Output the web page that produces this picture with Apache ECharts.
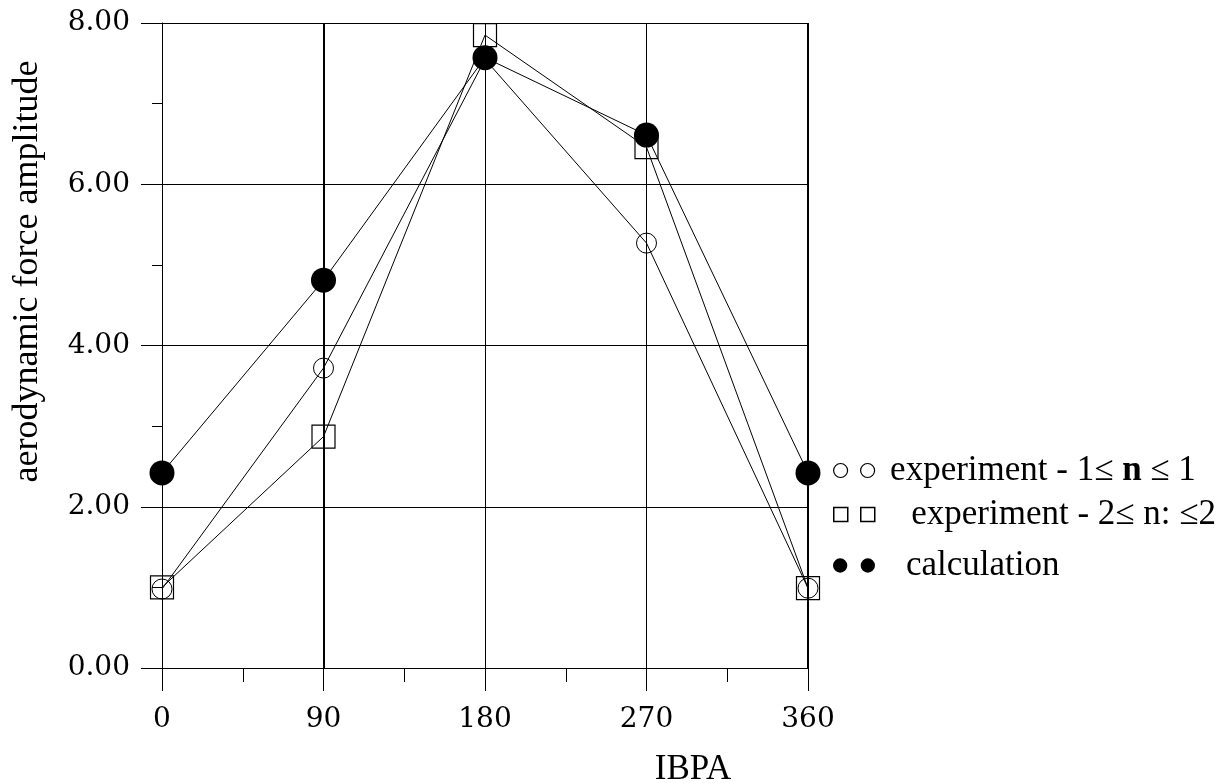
<!DOCTYPE html>
<html>
<head>
<meta charset="utf-8">
<script src="https://cdn.jsdelivr.net/npm/echarts@6/dist/echarts.min.js"></script>
<style>
html,body{margin:0;padding:0;background:#fff;}
#chart{width:1220px;height:783px;}
</style>
</head>
<body>
<div id="chart"></div>
<script>
// ---- data ----
var ibpa = [0, 90, 180, 270, 360];
var exp1 = [0.98, 3.72, 7.55, 5.27, 0.99];
var exp2 = [1.0, 2.87, 7.85, 6.46, 0.99];
var calc = [2.42, 4.81, 7.57, 6.61, 2.42];
var xTicks = [0, 90, 180, 270, 360];
var yTicks = [0, 2, 4, 6, 8];
var thickX = [90, 360];
var name1 = 'experiment - 1\u2264 n \u2264 1';
var name2 = 'experiment - 2\u2264 n: \u22642';
var name3 = 'calculation';

function pairs(xs, ys){ return xs.map(function(x,i){ return [x, ys[i]]; }); }

var serif = 'Liberation Serif';
var tickFont = 'DejaVu Serif';
var chart = echarts.init(document.getElementById('chart'), null, {renderer:'canvas'});

var hollow = {color:'rgba(0,0,0,0)', borderColor:'#000', borderWidth:1};
var solid = {color:'#000', borderColor:'#000', borderWidth:0};

var twoCircles = 'path://M7,0A7,7 0 1,1 7,14A7,7 0 1,1 7,0Z M34,0A7,7 0 1,1 34,14A7,7 0 1,1 34,0Z';
var twoSquares = 'path://M0,0H14V14H0Z M27,0H41V14H27Z';

function legendAt(name, icon, style, top, pad, h, fmt){
  return {
    left: 828, top: top, orient:'horizontal',
    itemWidth: 42, itemHeight: h, selectedMode:false,
    data:[{name:name, icon:icon, itemStyle:style}],
    formatter: fmt,
    textStyle:{fontFamily:serif, fontSize:35, color:'#000', padding:[0,0,0,pad],
      rich:{b:{fontFamily:serif, fontSize:35, fontWeight:'bold', color:'#000'}}}
  };
}

var option = {
  animation:false,
  backgroundColor:'#fff',
  grid:{left:162, right:412, top:23, bottom:115, containLabel:false, outerBoundsMode:'none'},
  legend:[
    legendAt(name1, twoCircles, {color:'rgba(0,0,0,0)', borderColor:'#000', borderWidth:1.2}, 448, 10, 14,
      function(){ return 'experiment - 1\u2264 {b|n} \u2264 1'; }),
    legendAt(name2, twoSquares, {color:'rgba(0,0,0,0)', borderColor:'#000', borderWidth:1.5}, 492, 31, 14, null),
    legendAt(name3, twoCircles, {color:'#000', borderWidth:0}, 543, 26, 17, null)
  ],
  xAxis:{
    type:'value', min:0, max:360, interval:90,
    name:'IBPA', nameLocation:'middle', nameGap:84,
    nameTextStyle:{fontFamily:serif, fontSize:35, color:'#000', padding:[0,0,0,416]},
    axisLine:{show:true, lineStyle:{color:'#000', width:1}},
    axisTick:{show:true, length:23, lineStyle:{color:'#000', width:1}},
    minorTick:{show:true, splitNumber:2, length:14, lineStyle:{color:'#000', width:1}},
    splitLine:{show:true, lineStyle:{color:'#000', width:1}},
    axisLabel:{fontFamily:tickFont, fontSize:28, color:'#000', margin:38,
      formatter:function(v){ return xTicks.indexOf(v) >= 0 ? String(v) : ''; }}
  },
  yAxis:{
    type:'value', min:0, max:8, interval:2,
    name:'aerodynamic force amplitude', nameLocation:'middle', nameGap:116, nameRotate:90,
    nameTextStyle:{fontFamily:serif, fontSize:36, color:'#000', padding:[0,0,0,148]},
    axisLine:{show:true, lineStyle:{color:'#000', width:1}},
    axisTick:{show:true, length:21, lineStyle:{color:'#000', width:1}},
    minorTick:{show:true, splitNumber:2, length:10, lineStyle:{color:'#000', width:1}},
    splitLine:{show:true, lineStyle:{color:'#000', width:1}},
    axisLabel:{fontFamily:tickFont, fontSize:28, color:'#000', margin:32,
      formatter:function(v){ return yTicks.indexOf(v) >= 0 ? v.toFixed(2) : ''; }}
  },
  series:[
    {
      name:name1, type:'line', data:pairs(ibpa, exp1), clip:false,
      symbol:'circle', symbolSize:20, showSymbol:true,
      lineStyle:{color:'#000', width:1}, itemStyle:hollow, z:3,
      markLine:{silent:true, symbol:'none', label:{show:false},
        lineStyle:{color:'#000', width:2, type:'solid'},
        data: thickX.map(function(v){ return {xAxis:v}; })}
    },
    {
      name:name2, type:'line', data:pairs(ibpa, exp2), clip:false,
      symbol:'rect', symbolSize:23, showSymbol:true,
      lineStyle:{color:'#000', width:1}, itemStyle:{color:'rgba(0,0,0,0)', borderColor:'#000', borderWidth:1.2}, z:3
    },
    {
      name:name3, type:'line', data:pairs(ibpa, calc), clip:false,
      symbol:'circle', symbolSize:25, showSymbol:true,
      lineStyle:{color:'#000', width:1}, itemStyle:solid, z:4
    }
  ]
};
chart.setOption(option);
</script>
</body>
</html>
